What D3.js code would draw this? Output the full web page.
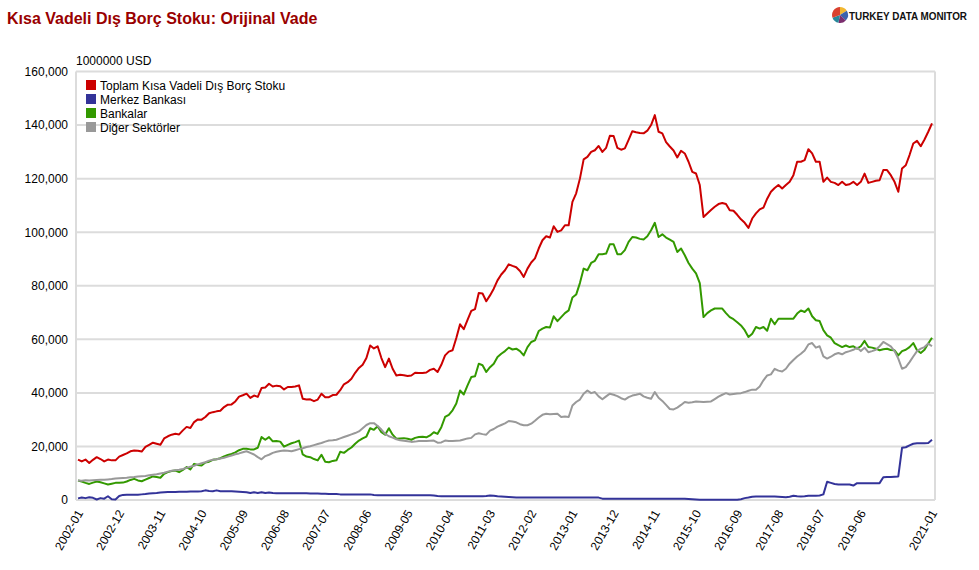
<!DOCTYPE html>
<html>
<head>
<meta charset="utf-8">
<script src="https://cdn.jsdelivr.net/npm/d3@7"></script>
<style>
html,body{margin:0;padding:0;background:#fff;}
svg{display:block;font-family:"Liberation Sans",Arial,sans-serif;}
</style>
</head>
<body>
<svg id="chart" width="979" height="570"></svg>
<script>
// ---------------- DATA (million USD) ----------------
const startYear = 2002, startMonth = 1, monthCount = 229; // 2002-01 .. 2021-01

const seriesNames = ["Toplam Kısa Vadeli Dış Borç Stoku", "Merkez Bankası", "Bankalar", "Diğer Sektörler"];
const seriesColors = ["#cc0000", "#333399", "#339900", "#999999"];

const toplam = [
15100,14400,15100,13800,15000,16000,15300,14400,15100,14800,14800,16200,
16800,17400,18200,18500,18400,18100,19800,20600,21400,21000,20600,23000,
23800,24400,24700,24500,26000,27300,26900,29100,30100,30000,31000,32400,
32800,33100,33300,34700,35600,35700,36800,38600,39100,39700,38100,39000,
38500,41800,42000,43400,42400,42700,42500,41300,42200,42200,42400,42800,
37800,37500,37600,36900,37500,39700,38400,38400,39200,39300,41000,43200,
44000,45300,47500,49300,50500,53000,57700,56600,57400,53000,49600,52800,
49000,46500,46800,46600,46300,46500,47500,47400,47400,47600,48600,49000,
47800,50500,54000,55400,55900,60500,65600,63800,67300,70600,71300,77300,
77100,74200,76400,78900,82000,84200,85800,88000,87400,86900,85500,83300,
86400,88700,90200,93900,97000,98500,98000,102200,100100,100700,102600,102600,
111300,114500,120000,127200,128100,130000,130600,132200,130000,131500,136000,135900,
131500,130800,131300,134500,137700,137300,137000,136900,137900,140000,143700,137500,
136900,133600,132000,130500,127900,130400,129400,126300,122500,121900,117600,105700,
107000,108300,109500,110500,110900,110500,108200,108000,106500,104800,103500,101600,
105100,107000,108500,109200,112500,115100,116500,117600,116300,117600,118800,121300,
126300,126300,126900,131000,129400,126300,126300,118800,120400,118800,118400,117600,
118800,117600,117900,118800,117600,118800,121900,118400,118800,119200,119400,123200,
123200,121300,118800,115100,123800,125000,128800,133100,134100,132100,134600,137500,
140600];

const merkez = [
600,900,700,1000,800,200,700,500,1400,300,200,1500,
1900,2000,2000,2000,2000,2100,2200,2400,2500,2600,2800,2900,
3000,3000,3000,3100,3100,3100,3200,3200,3200,3300,3600,3400,
3300,3600,3300,3300,3300,3300,3200,3100,3000,2900,2600,2900,
2600,2900,2600,2800,2600,2500,2500,2500,2500,2500,2500,2500,
2500,2500,2400,2400,2400,2300,2300,2200,2200,2200,2100,2100,
2100,2100,2100,2100,2100,2100,2100,1900,1800,1800,1800,1800,
1800,1800,1800,1800,1800,1800,1800,1800,1800,1800,1800,1700,
1500,1400,1400,1400,1400,1400,1400,1400,1400,1400,1400,1400,
1400,1500,1700,1600,1400,1300,1200,1100,1000,900,900,900,
900,900,900,900,900,900,900,900,900,900,900,900,
900,900,900,900,900,900,900,900,500,500,500,500,
500,500,500,500,500,500,500,500,500,500,500,500,
500,500,500,500,500,500,500,400,300,200,100,100,
100,100,100,100,100,100,100,100,100,300,700,900,
1200,1300,1300,1300,1300,1300,1300,1200,1100,1000,1200,1600,
1400,1300,1400,1600,1600,1600,1700,2100,6800,6400,6000,5800,
5800,5800,5800,5400,6300,6300,6300,6300,6300,6300,6300,8500,
8600,8600,8700,8800,19500,19700,20400,21000,21200,21200,21200,21300,
22500];

const bankalar = [
7300,6900,6400,6000,6500,6900,6600,6200,5800,6100,6400,6400,
6500,6900,7500,7900,7300,7000,7600,8200,8800,8600,8300,9800,
10400,10800,11000,10400,11200,12300,11400,13500,13100,12900,14000,14300,
15000,15200,15600,16300,16800,17200,17800,18600,19100,19100,18900,18900,
19500,23500,22500,23500,21900,22000,21800,19900,20600,21200,21600,22200,
17000,16200,16000,15300,14800,16900,14300,14100,14600,14800,18000,17600,
18700,19600,21000,22200,23000,23700,26800,26200,27500,25300,24400,26800,
24400,22900,23000,23100,22900,22500,23200,23500,23600,23400,24100,25300,
24700,27200,31000,31800,33500,36000,40900,39400,42800,45900,46200,50900,
50300,47800,49600,50900,53400,54600,55600,56900,56200,56500,55600,54000,
57100,59000,59600,63100,64000,64600,64400,68600,66800,68300,69800,70800,
75600,76700,81000,86400,85800,88500,89300,91800,91800,92000,95500,95500,
91800,91800,93300,96400,98200,98000,97500,97300,98500,100700,103500,98200,
99200,98000,97200,96400,92600,93900,91400,88500,86400,84600,81000,68300,
69800,70800,71500,71500,71500,69800,68300,67500,66400,65200,63400,60900,
62100,64600,64000,64600,63200,67700,65600,67700,67700,67700,67700,67700,
69600,70800,70200,71500,68600,67100,66800,63400,61500,60600,58600,57800,
57100,57700,57100,57400,56500,57400,59400,57100,56900,56500,55900,56300,
56500,56000,55900,54000,55600,56100,57100,58600,55900,54900,56100,58400,
60600];

const diger = [
7300,7200,7400,7300,7400,7500,7600,7600,7700,7800,8000,8100,
8200,8300,8500,8600,8800,8900,9000,9200,9400,9600,9900,10200,
10600,10900,11100,11300,11600,12000,12400,12800,13300,13700,14100,14700,
15000,15200,15500,15800,16200,16600,17100,17400,17800,18200,17600,17000,
16000,15200,16400,16900,17600,18000,18300,18500,18400,18200,18600,19000,
19300,19800,20100,20500,20900,21300,21800,22200,22300,22500,23000,23500,
24000,24500,25000,25600,26800,28000,28700,28700,27600,26300,24700,23800,
23300,22700,22300,22100,21900,21700,21800,22000,22000,22000,22100,22200,
21400,21500,22200,22000,22000,22100,22200,22600,23000,23200,24500,24900,
24600,24400,25900,26500,27400,28000,28600,29500,29300,29000,28300,27900,
27900,28500,29600,30800,31800,32200,32000,32100,32200,31000,31200,31000,
35300,36600,37500,39700,40900,39900,40300,38700,37600,38700,39700,39300,
38800,38000,37500,38400,39000,39300,39700,38700,38200,37800,40300,38200,
37000,35500,34000,33800,34500,35500,36600,36300,36500,36800,36700,36600,
36700,36800,37700,38600,39300,39900,39400,39600,39800,39900,40300,40800,
41200,41200,42400,44700,46500,46900,49000,48300,48000,49000,50900,52300,
53600,54600,55800,58100,58600,56900,57400,53600,52800,53500,54400,54900,
54400,55200,55600,56100,56900,55600,56900,55200,55600,56100,57400,59000,
58200,57400,55600,52800,49000,49600,51500,53600,55600,56500,57100,58400,
57400];

const xTickLabels = ["2002-01","2002-12","2003-11","2004-10","2005-09","2006-08","2007-07",
  "2008-06","2009-05","2010-04","2011-03","2012-02","2013-01","2013-12","2014-11",
  "2015-10","2016-09","2017-08","2018-07","2019-06","2021-01"];
const yTicks = [0,20000,40000,60000,80000,100000,120000,140000,160000];

const title = "Kısa Vadeli Dış Borç Stoku: Orijinal Vade";
const unitLabel = "1000000 USD";
const brand = "TURKEY DATA MONITOR";

// ---------------- CHART ----------------
const months = [];
for (let i = 0; i < monthCount; i++) {
  const t = (startMonth - 1) + i;
  const y = startYear + Math.floor(t / 12), m = (t % 12) + 1;
  months.push(y + "-" + (m < 10 ? "0" + m : m));
}
const seriesData = [toplam, merkez, bankalar, diger];

const svg = d3.select("#chart");
svg.append("rect").attr("width", 979).attr("height", 570).attr("fill", "#fff");

const frame = {left: 76, right: 935, top: 71.5, bottom: 500};
const x = d3.scalePoint().domain(months).range([78, 932]);
const y = d3.scaleLinear().domain([0, 160000]).range([frame.bottom, frame.top]);

// grid
const grid = svg.append("g");
grid.selectAll("line.h").data(yTicks).join("line")
  .attr("x1", frame.left).attr("x2", frame.right)
  .attr("y1", d => y(d)).attr("y2", d => y(d))
  .attr("stroke", "#dcdcdc").attr("stroke-width", 2);
grid.append("line").attr("x1", frame.left).attr("x2", frame.left)
  .attr("y1", frame.top).attr("y2", frame.bottom).attr("stroke", "#dcdcdc").attr("stroke-width", 2);
grid.append("line").attr("x1", frame.right).attr("x2", frame.right)
  .attr("y1", frame.top).attr("y2", frame.bottom).attr("stroke", "#dcdcdc").attr("stroke-width", 2);

// y axis labels
const yAxis = d3.axisLeft(y).tickValues(yTicks).tickFormat(d3.format(",")).tickSize(0).tickPadding(8);
const yg = svg.append("g").attr("transform", `translate(${frame.left},0)`).call(yAxis);
yg.select(".domain").remove();
yg.selectAll("text").attr("font-size", 12).attr("fill", "#000")
  .attr("font-family", "'Liberation Sans',Arial,sans-serif");

// x axis labels
const xAxis = d3.axisBottom(x).tickValues(xTickLabels).tickSize(0).tickPadding(0);
const xg = svg.append("g").attr("transform", `translate(0,${frame.bottom})`).call(xAxis);
xg.select(".domain").remove();
xg.selectAll("text")
  .attr("font-size", 12).attr("fill", "#000")
  .attr("font-family", "'Liberation Sans',Arial,sans-serif")
  .attr("text-anchor", "end")
  .attr("dy", null).attr("y", 0)
  .attr("transform", "translate(5,13) rotate(-60)");

// lines
const line = d3.line().x((d, i) => x(months[i])).y(d => y(d));
svg.append("g").selectAll("path").data(seriesData).join("path")
  .attr("d", d => line(d))
  .attr("fill", "none")
  .attr("stroke", (d, i) => seriesColors[i])
  .attr("stroke-width", 2)
  .attr("stroke-linejoin", "round");

// legend
const lg = svg.append("g");
seriesNames.forEach((n, i) => {
  lg.append("rect").attr("x", 86).attr("y", 80 + i * 14).attr("width", 10).attr("height", 10)
    .attr("fill", seriesColors[i]);
  lg.append("text").attr("x", 100).attr("y", 89.5 + i * 14).attr("font-size", 12)
    .attr("fill", "#000").text(n);
});

// title & unit
svg.append("text").attr("x", 7).attr("y", 24).attr("font-size", 16).attr("font-weight", "bold")
  .attr("fill", "#990000").text(title);
svg.append("text").attr("x", 76).attr("y", 65).attr("font-size", 12).attr("fill", "#000").text(unitLabel);

// brand logo
const logo = svg.append("g").attr("transform", "translate(840,15)");
const pieColors = ["#f2b731", "#3b63ad", "#7b2e6e", "#27879a", "#d9412e"];
const pieShares = [1, 1.3, 1, 1, 1.9];
const arcs = d3.pie().sort(null)(pieShares);
logo.selectAll("path").data(arcs).join("path")
  .attr("d", d3.arc().innerRadius(0).outerRadius(8))
  .attr("fill", (d, i) => pieColors[i]);
svg.append("text").attr("x", 849).attr("y", 19.5).attr("font-size", 11).attr("font-weight", "bold")
  .attr("fill", "#111").attr("textLength", 118).attr("lengthAdjust", "spacingAndGlyphs").text(brand);
</script>
</body>
</html>
